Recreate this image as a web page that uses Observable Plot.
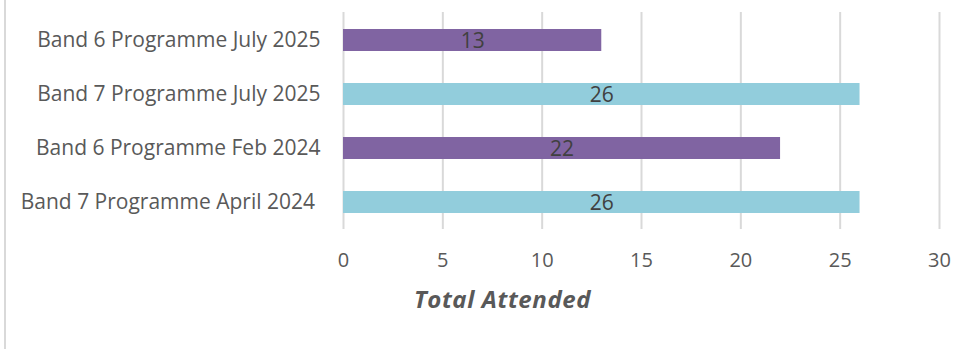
<!DOCTYPE html>
<html><head><meta charset="utf-8">
<script src="https://cdn.jsdelivr.net/npm/d3@7"></script>
<script src="https://cdn.jsdelivr.net/npm/@observablehq/plot@0.6"></script>
<style>
html,body{margin:0;padding:0;background:#fff;}
#wrap{position:relative;width:970px;height:349px;overflow:hidden;}
#border{position:absolute;left:4px;top:0;width:2px;height:349px;background:#d9d9d9;}
svg{font-family:"Open Sans",sans-serif;}
</style></head>
<body><div id="wrap"><div id="border"></div></div>
<script>
const categories = ["Band 6 Programme July 2025","Band 7 Programme July 2025","Band 6 Programme Feb 2024","Band 7 Programme April 2024 "];
const values = [13, 26, 22, 26];
const programmeBand = ["Band 6","Band 7","Band 6","Band 7"];
const xTicks = [0,5,10,15,20,25,30];
const xTitle = "Total Attended";

const data = categories.map((c,i)=>({category:c, value:values[i], band:programmeBand[i]}));

const chart = Plot.plot({
  width: 970, height: 349,
  marginLeft: 343, marginRight: 31, marginTop: 12, marginBottom: 120,
  style: {fontSize: "20px", color: "#595959", background: "white"},
  x: {domain: [0,30], ticks: xTicks, label: null},
  y: {domain: categories, paddingInner: 0.6, paddingOuter: 0.3, label: null},
  color: {domain: ["Band 6","Band 7"], range: ["#8064A2","#92CDDC"]},
  marks: [
    Plot.gridX(xTicks, {stroke: "#d9d9d9", strokeOpacity: 1, strokeWidth: 2}),
    Plot.axisX({ticks: xTicks, tickSize: 0, tickPadding: 23, fontSize: 20, fill: "#595959", label: null}),
    Plot.axisY({tickSize: 0, tickPadding: 23, fontSize: 21, fill: "#595959", label: null}),
    Plot.barX(data, {x: "value", y: "category", fill: "band"}),
    Plot.text(data, {x: d => d.value/2, y: "category", text: d => String(d.value), fill: "#404040", fontSize: 21, dy: 1}),
    Plot.text([xTitle], {frameAnchor: "bottom", dx: -139, dy: 78, text: d => d, fontSize: 24, fontWeight: "bold", fontStyle: "italic", fill: "#595959", style: {letterSpacing: "0.5px"}})
  ]
});
chart.querySelectorAll("text").forEach(t => { if (t.textContent === xTitle) t.style.letterSpacing = "0.6px"; });
document.getElementById("wrap").appendChild(chart);
</script></body></html>
